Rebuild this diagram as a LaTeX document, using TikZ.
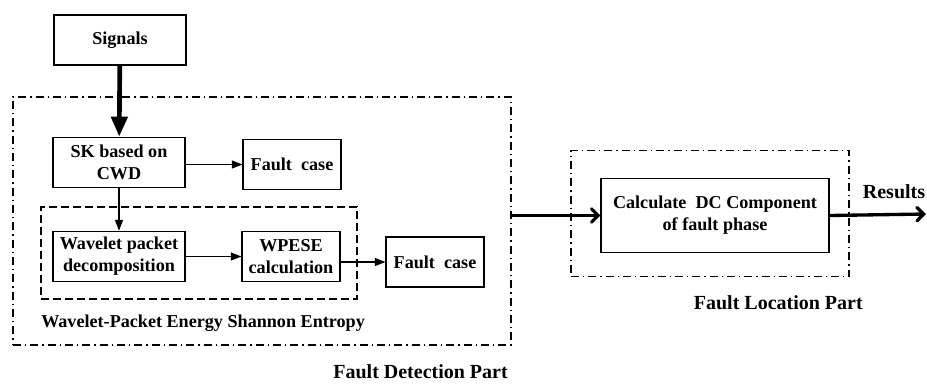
\documentclass[tikz,border=0pt]{standalone}
\usepackage{fontspec}
\setmainfont{Liberation Serif}
\usetikzlibrary{arrows.meta}

\begin{document}
\begin{tikzpicture}[
        x=0.75pt, y=-0.75pt,
        every node/.style={font=\fontsize{13.6}{16.5}\selectfont\bfseries},
        partlabel/.style={font=\fontsize{15}{18}\selectfont\bfseries, inner sep=0pt},
        blockbox/.style={draw, thick, align=center, inner sep=1pt},
        partframe/.style={draw, thick, dash pattern=on 6pt off 3pt on 1pt off 3pt, inner sep=0pt},
        wpframe/.style={draw, thick, dash pattern=on 6pt off 3pt, inner sep=0pt},
        thinarrow/.style={-{Triangle[length=8pt, width=6pt]}, thick},
        heavyarrow/.style={line width=3.5pt, -{Triangle[length=15pt, width=12pt]}},
        barbarrow/.style={line width=2.5pt, line cap=round, -{Straight Barb[length=5pt, width=10pt, line cap=round]}},
    ]
    \useasboundingbox (0,0) rectangle (927,383);

    % Frames
    \node[partframe, minimum width=373.5pt, minimum height=186pt] (detect) at (262,221) {};
    \node[wpframe, minimum width=237pt, minimum height=69pt] (wpframe) at (199,253) {};
    \node[partframe, minimum width=208.5pt, minimum height=95pt] (locate) at (710,213.5) {};

    % Detection blocks
    \node[blockbox, minimum width=99pt, minimum height=37.5pt] (signals) at (120,40) {Signals};
    \node[blockbox, minimum width=99pt, minimum height=38pt] (sk) at (119,162.5) {SK based on\\CWD};
    \node[blockbox, minimum width=73.5pt, minimum height=38pt] (fault1) at (292,164.5) {Fault\ \ case};
    \node[blockbox, minimum width=99pt, minimum height=38pt] (wpd) at (119,256.5) {Wavelet packet\\decomposition};
    \node[blockbox, minimum width=73.5pt, minimum height=38pt] (wpese) at (291,256.5) {WPESE\\calculation};
    \node[blockbox, minimum width=73.5pt, minimum height=37.5pt] (fault2) at (435,262) {Fault\ \ case};

    % Location block
    \node[blockbox, minimum width=171pt, minimum height=56pt] (calc) at (715,215.5) {Calculate\ \ DC Component\\of fault phase};
    \coordinate (out) at (926,214);

    % Labels
    \node[anchor=west, inner sep=0pt] (wplabel) at (41,323) {Wavelet-Packet Energy Shannon Entropy};
    \node[partlabel, anchor=east] (detlabel) at (508,372) {Fault Detection Part};
    \node[partlabel, anchor=east] (loclabel) at (863,303) {Fault Location Part};
    \node[partlabel] (reslabel) at (894,192) {Results};

    % Connections
    \draw[heavyarrow] (signals) -- (sk);
    \draw[thinarrow] (sk.east |- fault1) -- (fault1);
    \draw[thinarrow] (sk) -- (wpd);
    \draw[thinarrow] (wpd.east |- wpese) -- (wpese);
    \draw[thinarrow] (wpese.east |- fault2) -- (fault2);
    \draw[barbarrow] (detect.east |- calc.west) -- (calc.west);
    \draw[barbarrow] (calc.east) -- (out);
\end{tikzpicture}
\end{document}
